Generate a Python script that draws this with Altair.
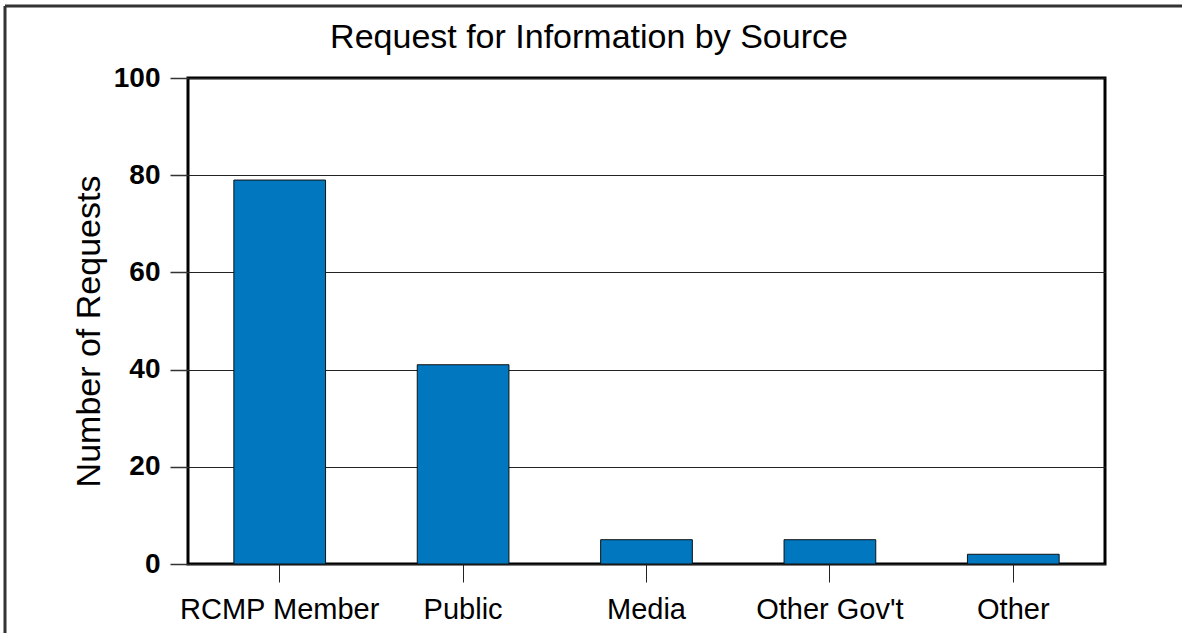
import altair as alt
import pandas as pd

sources = ["RCMP Member", "Public", "Media", "Other Gov't", "Other"]
requests = [79, 41, 5, 5, 2]
y_ticks = [0, 20, 40, 60, 80, 100]
chart_title = "Request for Information by Source"

df = pd.DataFrame({"source": sources, "requests": requests})
title_df = pd.DataFrame({"t": [chart_title]})

FONT = "Liberation Sans"

bars = alt.Chart(df).mark_bar(
    color="#0077BF", stroke="#111111", strokeWidth=1
).encode(
    x=alt.X(
        "source:N",
        sort=sources,
        scale=alt.Scale(paddingInner=0.5, paddingOuter=0.25),
        axis=alt.Axis(
            title=None, labelAngle=0, labelFontSize=29, labelFont=FONT,
            labelColor="#000000", labelLimit=0, tickSize=18,
            tickColor="#222222", tickWidth=1, labelPadding=13, domain=False,
        ),
    ),
    y=alt.Y(
        "requests:Q",
        scale=alt.Scale(domain=[0, 100], nice=False),
        axis=alt.Axis(
            values=y_ticks, title="Number of Requests", titleFontSize=34,
            titleFont=FONT, titleFontWeight="normal", titleColor="#000000",
            titleX=-89, titleY=253, titleAngle=270, titleAlign="center",
            titleBaseline="alphabetic",
            labelFontSize=28, labelFont=FONT,
            labelFontWeight="bold", labelColor="#000000", tickSize=18,
            tickColor="#333333", tickWidth=1.5, labelPadding=10,
            grid=True, gridColor="#222222", gridWidth=1.2, domain=False,
        ),
    ),
)

title_mark = alt.Chart(title_df).mark_text(
    font=FONT, fontSize=34, color="#000000", align="center",
    baseline="alphabetic",
).encode(x=alt.value(401), y=alt.value(-30), text="t:N")

frame_left = alt.Chart(title_df).mark_rule(color="#333333", strokeWidth=3).encode(
    x=alt.value(-183), y=alt.value(-72), y2=alt.value(560)
)
frame_top = alt.Chart(title_df).mark_rule(color="#333333", strokeWidth=3).encode(
    x=alt.value(-183), x2=alt.value(1000), y=alt.value(-72)
)

chart = alt.layer(bars, title_mark, frame_left, frame_top).properties(
    width=917,
    height=486,
    autosize=alt.AutoSizeParams(type="none"),
    padding={"left": 188, "top": 78, "right": 77, "bottom": 69},
).configure_view(
    stroke="#000000", strokeWidth=3
)

chart.save("out.html", embed_options={"renderer": "svg", "actions": False})
